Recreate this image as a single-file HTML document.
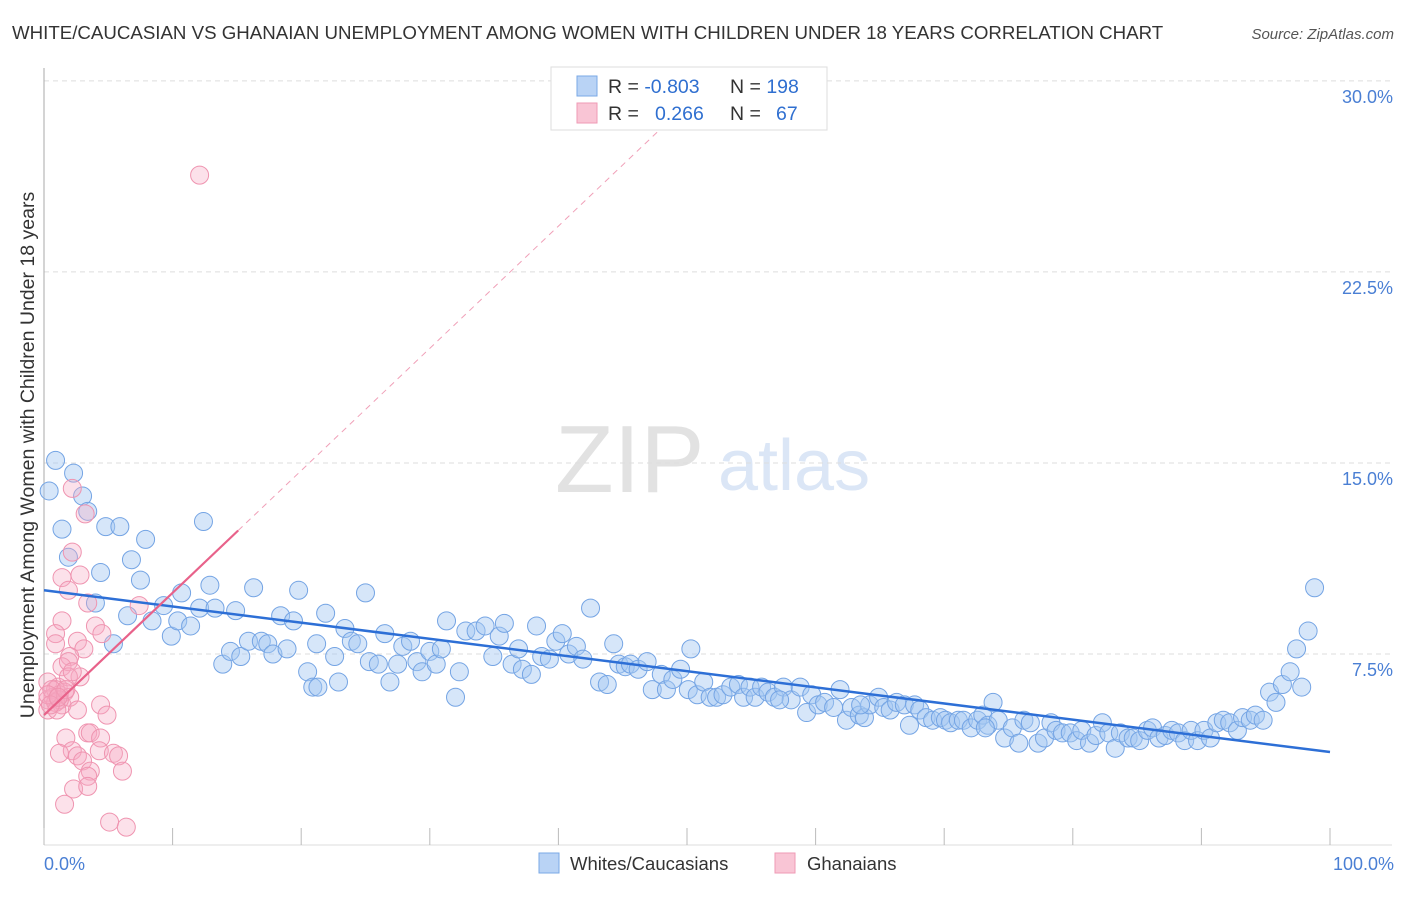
<!DOCTYPE html>
<html><head><meta charset="utf-8"><style>
body{margin:0;background:#fff;font-family:"Liberation Sans",sans-serif}
svg text{font-family:"Liberation Sans",sans-serif}
</style></head><body>
<svg id="c" width="1406" height="892">
<text x="12" y="39" font-size="18.7" fill="#333">WHITE/CAUCASIAN VS GHANAIAN UNEMPLOYMENT AMONG WOMEN WITH CHILDREN UNDER 18 YEARS CORRELATION CHART</text>
<text x="1394" y="39" font-size="15" fill="#555" font-style="italic" text-anchor="end">Source: ZipAtlas.com</text>
<text x="555" y="492" font-size="96" fill="#e2e2e2" font-family="Liberation Serif,serif">ZIP</text>
<text x="718" y="490" font-size="72" fill="#dbe6f6">atlas</text>
<text transform="translate(34,455) rotate(-90)" font-size="19.5" fill="#333" text-anchor="middle">Unemployment Among Women with Children Under 18 years</text>
<g id="grid"></g><g id="pts"></g><g id="lines"></g>
<g>
<rect x="551" y="67" width="276" height="63" fill="#fff" stroke="#ddd"/>
<rect x="577" y="76" width="20" height="20" fill="#b9d3f5" stroke="#7aa8e6"/>
<rect x="577" y="103" width="20" height="20" fill="#f9c5d5" stroke="#ef9ab5"/>
<text x="608" y="93" font-size="19.5" fill="#333">R = <tspan fill="#2f6fd0">-0.803</tspan></text>
<text x="730" y="93" font-size="19.5" fill="#333">N = <tspan fill="#2f6fd0">198</tspan></text>
<text x="608" y="120" font-size="19.5" fill="#333">R = <tspan fill="#2f6fd0" x="655">0.266</tspan></text>
<text x="730" y="120" font-size="19.5" fill="#333">N = <tspan fill="#2f6fd0" x="776">67</tspan></text>
</g>
<g>
<rect x="539" y="853" width="20" height="20" fill="#b9d3f5" stroke="#7aa8e6"/>
<text x="570" y="870" font-size="18.5" fill="#333">Whites/Caucasians</text>
<rect x="775" y="853" width="20" height="20" fill="#f9c5d5" stroke="#ef9ab5"/>
<text x="807" y="870" font-size="18.5" fill="#333">Ghanaians</text>
</g>
<text x="44" y="870" font-size="18" fill="#4a7fd4">0.0%</text>
<text x="1394" y="870" font-size="18" fill="#4a7fd4" text-anchor="end">100.0%</text>
</svg>
<script>
const yTicks=[7.5,15,22.5,30];
const yTickLabels=["7.5%","15.0%","22.5%","30.0%"];
const xTicks=[0,10,20,30,40,50,60,70,80,90,100];
const blueX=[0.9,2.3,0.4,3.0,3.4,1.4,4.8,5.9,7.9,1.9,4.4,6.8,7.5,10.7,12.4,12.9,16.3,19.8,25.0,98.8,4.0,6.5,8.4,9.3,9.9,10.4,11.4,12.1,13.3,14.9,18.4,19.4,21.9,21.2,5.4,13.9,14.5,15.3,15.9,16.9,17.4,17.8,18.9,20.5,20.9,21.3,22.9,22.6,23.4,23.9,24.4,25.3,26.0,26.5,26.9,27.5,27.9,28.5,29.0,29.4,30.0,30.5,30.9,31.3,32.0,32.3,32.8,33.6,34.3,34.9,35.4,35.8,36.4,36.9,37.2,37.9,38.3,38.7,39.3,39.8,40.3,40.8,41.4,41.9,42.5,43.2,43.8,44.3,44.7,45.2,45.6,46.2,46.9,47.3,48.0,48.4,48.9,49.5,50.1,50.3,50.8,51.3,51.8,52.3,52.8,53.4,54.0,54.4,54.9,55.3,55.8,56.3,56.8,57.5,58.1,58.8,59.3,59.7,60.2,60.7,61.4,61.9,62.4,62.8,63.4,63.8,64.2,64.9,65.3,65.8,66.3,66.9,67.3,67.7,68.1,68.6,69.1,69.7,70.1,70.5,71.1,71.5,72.1,72.6,73.0,73.4,73.8,74.2,74.7,75.3,75.8,76.2,76.7,77.3,77.8,78.3,78.7,79.2,79.8,80.3,80.7,81.3,81.8,82.3,82.8,83.3,83.7,84.3,84.7,85.2,85.8,86.2,86.7,87.2,87.7,88.2,88.7,89.2,89.7,90.2,90.7,91.2,91.7,92.2,92.8,93.2,93.8,94.2,94.8,95.3,95.8,96.3,96.9,97.4,97.8,98.3,73.2,63.5,57.2];
const blueY=[15.1,14.6,13.9,13.7,13.1,12.4,12.5,12.5,12.0,11.3,10.7,11.2,10.4,9.9,12.7,10.2,10.1,10.0,9.9,10.1,9.5,9.0,8.8,9.4,8.2,8.8,8.6,9.3,9.3,9.2,9.0,8.8,9.1,7.9,7.9,7.1,7.6,7.4,8.0,8.0,7.9,7.5,7.7,6.8,6.2,6.2,6.4,7.4,8.5,8.0,7.9,7.2,7.1,8.3,6.4,7.1,7.8,8.0,7.2,6.8,7.6,7.1,7.7,8.8,5.8,6.8,8.4,8.4,8.6,7.4,8.2,8.7,7.1,7.7,6.9,6.7,8.6,7.4,7.3,8.0,8.3,7.5,7.8,7.3,9.3,6.4,6.3,7.9,7.1,7.0,7.1,6.9,7.2,6.1,6.7,6.1,6.5,6.9,6.1,7.7,5.9,6.4,5.8,5.8,5.9,6.2,6.3,5.8,6.2,5.8,6.2,6.0,5.8,6.2,5.7,6.2,5.2,5.9,5.5,5.6,5.4,6.1,4.9,5.4,5.1,5.0,5.5,5.8,5.4,5.3,5.6,5.5,4.7,5.5,5.3,5.0,4.9,5.0,4.9,4.8,4.9,4.9,4.6,4.9,5.1,4.7,5.6,4.9,4.2,4.6,4.0,4.9,4.8,4.0,4.2,4.8,4.5,4.4,4.4,4.1,4.5,4.0,4.3,4.8,4.4,3.8,4.4,4.2,4.2,4.1,4.5,4.6,4.2,4.3,4.5,4.4,4.1,4.5,4.1,4.5,4.2,4.8,4.9,4.8,4.5,5.0,4.9,5.1,4.9,6.0,5.6,6.3,6.8,7.7,6.2,8.4,4.6,5.5,5.7];
const pinkX=[12.1,2.2,3.2,2.2,1.4,2.8,1.9,3.4,7.4,1.4,4.0,0.9,4.5,2.6,3.1,0.9,2.0,1.4,1.9,2.8,0.3,1.1,1.9,0.3,0.7,0.9,1.2,1.6,0.3,1.4,2.0,2.6,4.4,4.9,1.7,3.4,3.6,4.4,2.2,1.2,2.6,4.3,5.4,5.8,6.1,3.0,3.6,3.4,2.3,3.4,1.6,5.1,6.4,0.6,0.9,1.2,0.3,1.0,1.7,2.2,0.5,1.1];
const pinkY=[26.3,14.0,13.0,11.5,10.5,10.6,10.0,9.5,9.4,8.8,8.6,8.3,8.3,8.0,7.7,7.9,7.4,7.0,7.2,6.6,6.4,6.2,6.6,5.7,5.8,6.1,5.9,6.0,5.3,5.5,5.8,5.3,5.5,5.1,4.2,4.4,4.4,4.2,3.7,3.6,3.5,3.7,3.6,3.5,2.9,3.3,2.9,2.7,2.2,2.3,1.6,0.9,0.7,6.1,5.6,5.7,5.9,5.3,6.1,6.8,5.5,5.8];
const blueTrend=[10.0,3.65];
const pinkTrend=[5.1,0.48];
const NS="http://www.w3.org/2000/svg";
const X=v=>44+v*12.86, Y=v=>845-v*25.47;
function mk(t,a,p){const e=document.createElementNS(NS,t);for(const k in a)e.setAttribute(k,a[k]);p.appendChild(e);return e;}
const grid=document.getElementById('grid');
yTicks.forEach((t,i)=>{
 const l=mk('line',{x1:44,x2:1392,y1:Y(t),y2:Y(t),stroke:'#ddd','stroke-dasharray':'5,4'},grid);
 
 
 const tx=mk('text',{x:1393,y:Y(t)+22,'font-size':18,fill:'#4a7fd4','text-anchor':'end'},grid);
 tx.textContent=yTickLabels[i];
 
 
});
let ax=mk('line',{x1:44,x2:44,y1:68,y2:845,stroke:'#aaa'},grid);


ax=mk('line',{x1:44,x2:1392,y1:845,y2:845,stroke:'#ddd'},grid);


xTicks.forEach(t=>{const l=mk('line',{x1:X(t),x2:X(t),y1:828,y2:845,stroke:'#bbb'},grid);
 
 });
const pts=document.getElementById('pts');
blueX.forEach((x,i)=>{const c=mk('circle',{cx:X(x),cy:Y(blueY[i]),r:9,fill:'rgba(165,200,242,0.45)',stroke:'#74a4e4','stroke-width':1},pts);
 
 });
pinkX.forEach((x,i)=>{const c=mk('circle',{cx:X(x),cy:Y(pinkY[i]),r:9,fill:'rgba(245,170,195,0.35)',stroke:'#ef94b0','stroke-width':1},pts);
 
 });
const ln=document.getElementById('lines');
let t=mk('line',{x1:X(0),y1:Y(blueTrend[0]),x2:X(100),y2:Y(blueTrend[1]),stroke:'#2d6fd6','stroke-width':2.5},ln);


t=mk('line',{x1:X(0),y1:Y(pinkTrend[0]),x2:X(15.1),y2:Y(pinkTrend[0]+pinkTrend[1]*15.1),stroke:'#e8628a','stroke-width':2.2},ln);


const xe=(30.5-pinkTrend[0])/pinkTrend[1];
t=mk('line',{x1:X(15.1),y1:Y(pinkTrend[0]+pinkTrend[1]*15.1),x2:X(xe),y2:Y(30.5),stroke:'#f0a0b8','stroke-width':1,'stroke-dasharray':'6,5'},ln);


</script>
</body></html>
